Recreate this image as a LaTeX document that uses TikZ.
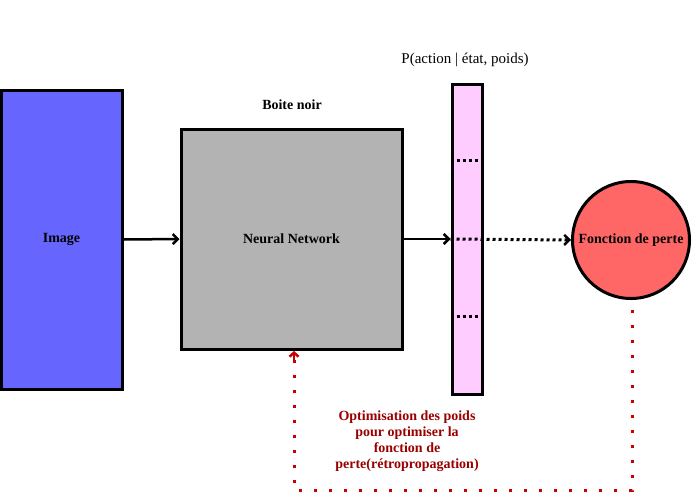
\documentclass[tikz,border=0pt]{standalone}
\usepackage{fontspec}
\setmainfont{Liberation Serif}
\usetikzlibrary{arrows.meta}
\definecolor{imgblue}{HTML}{6666FF}
\definecolor{nngray}{HTML}{B3B3B3}
\definecolor{barpink}{HTML}{FFCCFF}
\definecolor{lossred}{HTML}{FF6666}
\definecolor{backred}{HTML}{CC0000}
\definecolor{textred}{HTML}{990000}
\tikzset{
  boxstyle/.style={draw=black, line width=3pt, inner sep=0pt, font=\bfseries\fontsize{14}{16}\selectfont},
  arr/.style={line width=2.5pt, -{Straight Barb[length=5pt,width=10pt,line width=2.5pt]}},
  dotarr/.style={line width=3pt, dash pattern=on 3pt off 3pt, -{Straight Barb[length=5pt,width=10pt,line width=2.5pt,sep=0pt]}},
  dotsep/.style={line width=3pt, dash pattern=on 3pt off 3pt},
  backline/.style={draw=backred, line width=3pt, dash pattern=on 3pt off 12pt},
}
\begin{document}
\begin{tikzpicture}[x=1pt,y=-1pt]
\useasboundingbox (0,0) rectangle (693,501);
\node[boxstyle, fill=imgblue, minimum width=121pt, minimum height=299pt] (img) at (61.5,239.5) {Image};
\node[boxstyle, fill=nngray, minimum width=221pt, minimum height=220pt] (nn) at (291.5,239) {Neural Network};
\node[boxstyle, fill=barpink, minimum width=30pt, minimum height=310pt] (bar) at (467,239) {};
\node[boxstyle, circle, fill=lossred, minimum size=117pt] (loss) at (631,240) {Fonction de perte};
\node[font=\bfseries\fontsize{14}{16}\selectfont] (bn) at (292,105) {Boite noir};
\node[font=\fontsize{15}{17}\selectfont] (pa) at (465,60) {P(action | état, poids)};
\draw[dotsep] ([yshift=-77pt]bar.west) -- ([yshift=-77pt]bar.east);
\draw[dotsep] ([yshift=79pt]bar.west) -- ([yshift=79pt]bar.east);
\draw[arr] (img.east) -- (nn.west);
\draw[arr] (nn.east) -- (bar.west);
\draw[dotarr] (bar.west) -- (loss.west);
\coordinate (c1) at (632,490);
\coordinate (c2) at (294,490);
\coordinate (c0) at (632,310);
\coordinate (ct) at (294,351);
\draw[backline] (c0) -- (c1) -- (c2) -- (ct);
\draw[draw=backred, line width=2.5pt, -{Straight Barb[length=4pt,width=9pt,line width=2.5pt]}] (294,362) -- (ct);
\node[text=textred, font=\bfseries\fontsize{14}{16}\selectfont, align=center] (opt) at (407,441) {Optimisation des poids\\pour optimiser la\\fonction de\\perte(rétropropagation)};
\end{tikzpicture}
\end{document}
